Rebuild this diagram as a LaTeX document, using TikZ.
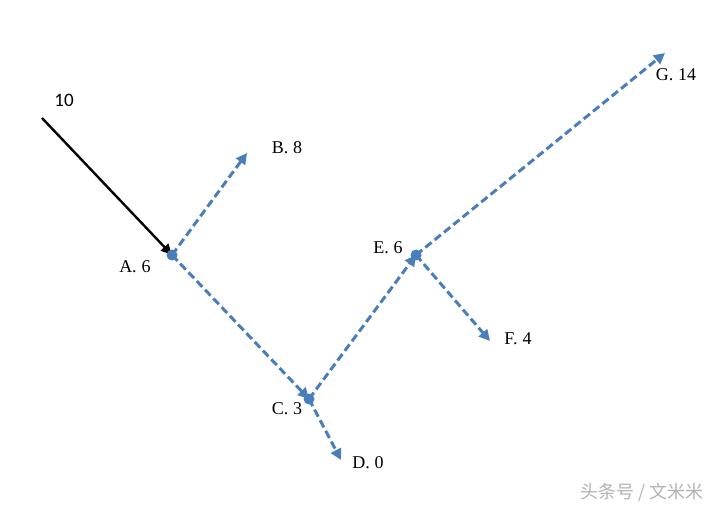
\documentclass[tikz,border=0pt]{standalone}
\usepackage{fontspec}
\setmainfont{Liberation Serif}
\newfontfamily\cjk{Noto Sans CJK SC}
\newfontfamily\numfont{Carlito}
\usetikzlibrary{arrows.meta}
\definecolor{flowblue}{RGB}{74,126,187}
\tikzset{
    flow/.style = {draw=flowblue, line width=3pt, dash pattern=on 8pt off 4pt, -{Triangle[length=11pt,width=11pt]}},
    feed/.style = {draw=black, line width=2.4pt, -{Triangle[length=11pt,width=10pt]}},
    dot/.style = {circle, fill=flowblue, inner sep=0pt, minimum size=11pt},
    value/.style = {font=\fontsize{18}{20}\selectfont, inner sep=0pt},
}

\begin{document}
\begin{tikzpicture}[x=1pt, y=-1pt]
\useasboundingbox (0,0) rectangle (722,509);
% points
\coordinate (start) at (42,118);
\coordinate (a) at (172,255);
\coordinate (c) at (309,399);
\coordinate (e) at (416,255);
\coordinate (B) at (247,153);
\coordinate (D) at (341,460);
\coordinate (F) at (490,341);
\coordinate (G) at (665,53);
% arrows
\draw[feed] (start) -- (a);
\draw[flow] (a) -- (B);
\draw[flow] (a) -- (c);
\draw[flow] (c) -- (D);
\draw[flow] (c) -- (e);
\draw[flow] (e) -- (F);
\draw[flow] (e) -- (G);
% dots on top
\node[dot] (A) at (a) {};
\node[dot] (C) at (c) {};
\node[dot] (E) at (e) {};
% labels
\node[font=\numfont\fontsize{19}{21}\selectfont] (in) at (64,100) {10};
\node[value] (Alab) at (135,267) {A.\;6};
\node[value] (Blab) at (287,148) {B.\;8};
\node[value] (Clab) at (287,409) {C.\;3};
\node[value] (Dlab) at (368,463) {D.\;0};
\node[value] (Elab) at (388,248) {E.\;6};
\node[value] (Flab) at (518,339) {F.\;4};
\node[value] (Glab) at (676,75) {G.\;14};
\node[font=\cjk\fontsize{18}{20}\selectfont, text=black!30] (mark) at (642,492) {头条号 / 文米米};
\end{tikzpicture}
\end{document}
